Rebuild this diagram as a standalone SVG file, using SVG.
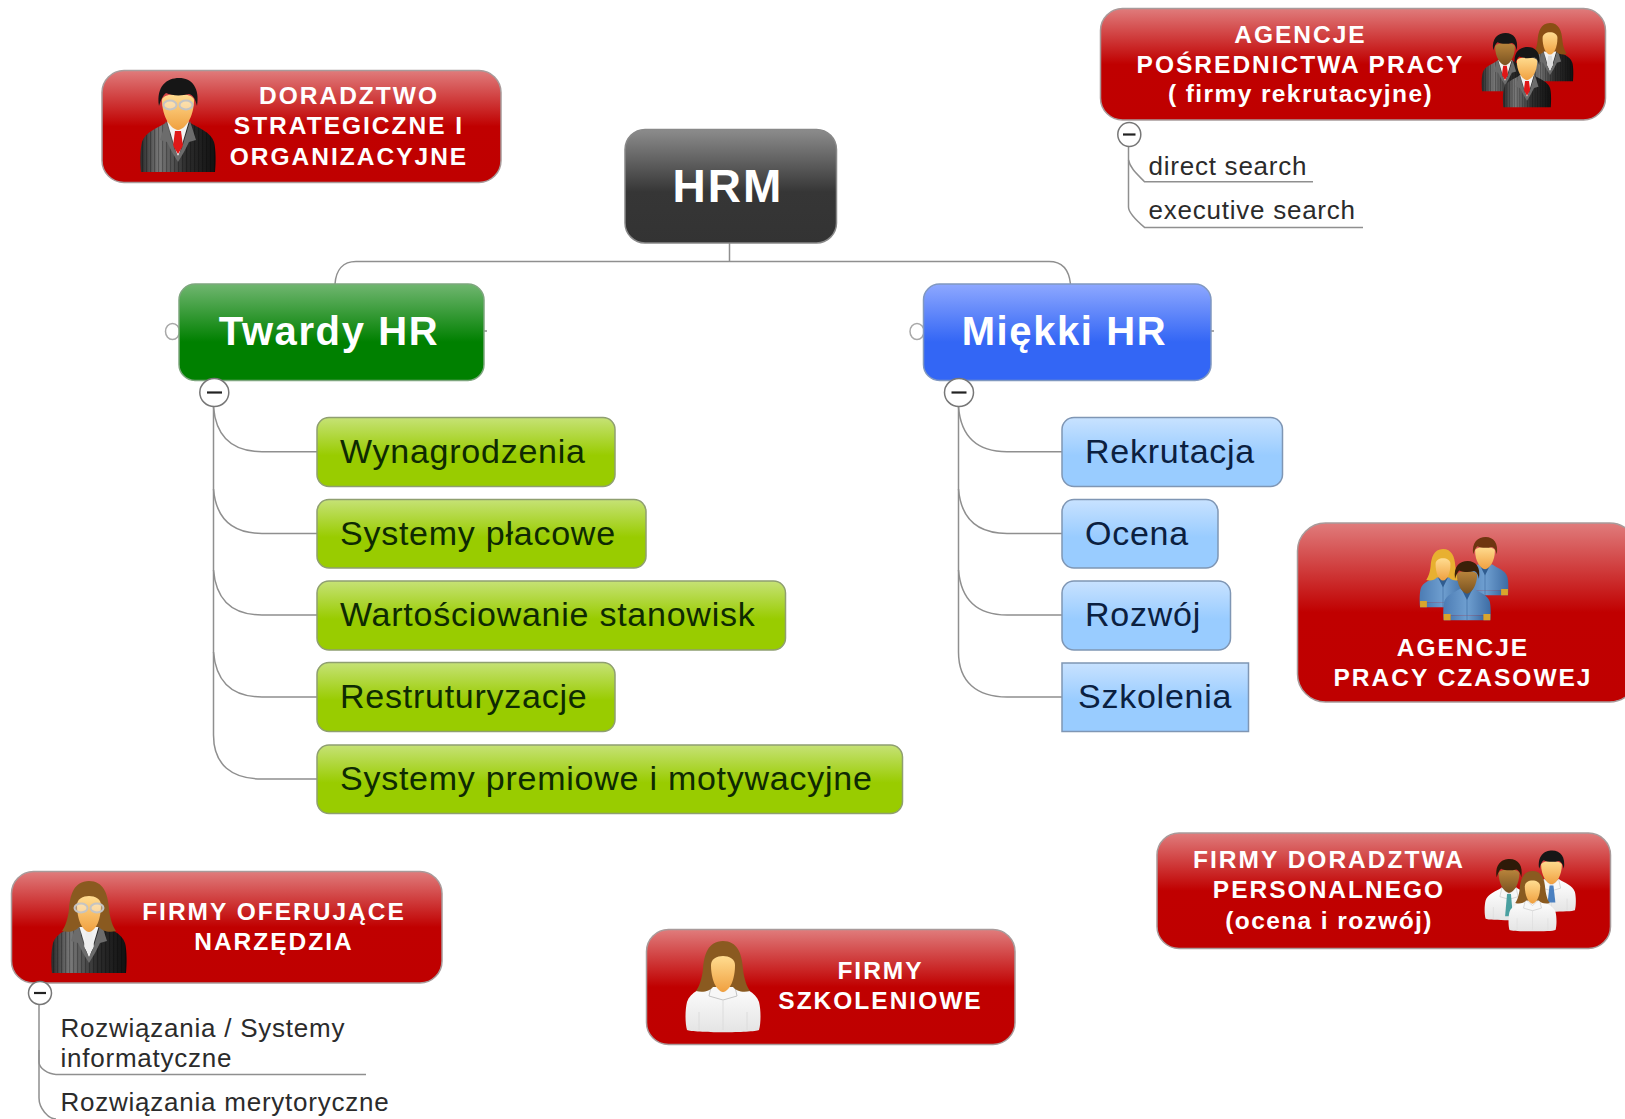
<svg xmlns="http://www.w3.org/2000/svg" xmlns:xlink="http://www.w3.org/1999/xlink" width="1625" height="1119" viewBox="0 0 1625 1119">
<style>
text{font-family:"Liberation Sans",Arial,sans-serif}
.red{fill:url(#gRed);stroke:#a89a9a;stroke-width:1.5}
.rt{fill:#fff;font-weight:bold;font-size:24.5px;letter-spacing:2px;text-anchor:middle}
.rl{letter-spacing:1.4px}
.big{fill:#fff;font-weight:bold;font-size:40px;letter-spacing:1.6px;text-anchor:middle}
.lime{fill:url(#gLime);stroke:#8f9f70;stroke-width:1.5}
.sky{fill:url(#gSky);stroke:#7f96b4;stroke-width:1.5}
.lt{fill:#0e2a02;font-size:34px;letter-spacing:.75px}
.bt{fill:#0b2040;font-size:34px;letter-spacing:.75px}
.sub{fill:#2b2b2b;font-size:26px;letter-spacing:.76px}
.c{fill:none;stroke:#8f8f8f;stroke-width:1.5}
.dot{fill:#fff;stroke:#a8a8a8;stroke-width:1.5}
.tog{fill:#fff;stroke:#777;stroke-width:1.5}
.minus{stroke:#222;stroke-width:2.2}
</style>
<defs>
<linearGradient id="gRed" x1="0" y1="0" x2="0" y2="1"><stop offset="0" stop-color="#e07c7c"/><stop offset=".5" stop-color="#c00000"/><stop offset="1" stop-color="#bf0000"/></linearGradient>
<linearGradient id="gBlack" x1="0" y1="0" x2="0" y2="1"><stop offset="0" stop-color="#8c8c8c"/><stop offset=".55" stop-color="#363636"/><stop offset="1" stop-color="#333"/></linearGradient>
<linearGradient id="gGreen" x1="0" y1="0" x2="0" y2="1"><stop offset="0" stop-color="#70b670"/><stop offset=".6" stop-color="#008000"/><stop offset="1" stop-color="#008000"/></linearGradient>
<linearGradient id="gBlue" x1="0" y1="0" x2="0" y2="1"><stop offset="0" stop-color="#8ea8ff"/><stop offset=".6" stop-color="#3366f5"/><stop offset="1" stop-color="#3366f5"/></linearGradient>
<linearGradient id="gLime" x1="0" y1="0" x2="0" y2="1"><stop offset="0" stop-color="#c6e276"/><stop offset=".55" stop-color="#99cc00"/><stop offset="1" stop-color="#99cc00"/></linearGradient>
<linearGradient id="gSky" x1="0" y1="0" x2="0" y2="1"><stop offset="0" stop-color="#c8e2ff"/><stop offset=".55" stop-color="#99ccff"/><stop offset="1" stop-color="#99ccff"/></linearGradient>
<linearGradient id="skin" x1="0" y1="0" x2="0" y2="1"><stop offset="0" stop-color="#ffdc90"/><stop offset="1" stop-color="#f0a040"/></linearGradient>
<linearGradient id="skinD" x1="0" y1="0" x2="0" y2="1"><stop offset="0" stop-color="#b9853c"/><stop offset="1" stop-color="#7a5320"/></linearGradient>
<linearGradient id="suitG" x1="0" y1="0" x2="1" y2="0"><stop offset="0" stop-color="#2a2a2a"/><stop offset=".25" stop-color="#7a7a7a"/><stop offset=".6" stop-color="#2e2e2e"/><stop offset="1" stop-color="#111"/></linearGradient>
<linearGradient id="shirtG" x1="0" y1="0" x2="0" y2="1"><stop offset="0" stop-color="#ffffff"/><stop offset="1" stop-color="#e4e4e4"/></linearGradient>
<linearGradient id="blueG" x1="0" y1="0" x2="1" y2="0"><stop offset="0" stop-color="#4c7cb4"/><stop offset=".5" stop-color="#6f9fd0"/><stop offset="1" stop-color="#3d6ca4"/></linearGradient>
<pattern id="stripes" width="4" height="8" patternUnits="userSpaceOnUse"><rect width="1.2" height="8" fill="#000" fill-opacity=".28"/></pattern>
<g id="suit">
<path d="M-11 44C-20 50-33 54-36 64C-38 72-38 85-37 94H37C38 85 38 72 36 64C33 54 20 50 11 44L0 52Z" fill="url(#suitG)"/>
<path d="M-11 44C-20 50-33 54-36 64C-38 72-38 85-37 94H37C38 85 38 72 36 64C33 54 20 50 11 44L0 52Z" fill="url(#stripes)"/>
<path d="M-11 43L0 80L11 43L0 50Z" fill="#f2f2f2"/>
<path d="M-3 53H3L5 68L0 76L-5 68Z" fill="currentColor"/>
<path d="M-12 43L-18 62L-11 64L-6 74L0 84L6 74L11 64L18 62L12 43L4 70L0 78L-4 70Z" fill="#6c6c6c"/>
</g>
<g id="whiteshirt">
<path d="M-11 44C-20 50-33 54-36 64C-38 72-38 85-36 92C-30 95 30 95 36 92C38 85 38 72 36 64C33 54 20 50 11 44L0 52Z" fill="url(#shirtG)"/>
<path d="M-11 44L-14 58L0 62L14 58L11 44L0 54Z" fill="#f7f7f7" stroke="#c4c4c4"/>
<path d="M0 62V92M-24 74V92M24 74V92" stroke="#dcdcdc" fill="none"/>
</g>
<g id="blueshirt">
<path d="M-11 44C-20 50-33 54-36 64C-38 72-38 85-37 94H-26V86H26V94H37C38 85 38 72 36 64C33 54 20 50 11 44L0 52Z" fill="url(#blueG)"/>
<path d="M-26 86H26V94H-26Z" fill="url(#blueG)"/>
<path d="M-37 84H-26V94H-37ZM26 84H37V94H26Z" fill="#d9a52c"/>
<path d="M-9 44L0 62L9 44L0 50Z" fill="#2f5c90"/>
<path d="M0 60V94" stroke="#3b6aa0"/>
</g>
<g id="mhead">
<path d="M-16 22C-16 14 16 14 16 22C16 38 8 51 0 52C-8 51-16 38-16 22Z"/>
<path d="M-19 28C-22 8-11 0 1 0C14 0 22 10 19 28C17 20 15 17 11 16C4 18-6 18-12 15C-15 17-17 22-19 28Z" fill="currentColor"/>
</g>
<g id="fhead">
<path d="M0 0C-15 0-19 14-20 28C-21 38-24 46-27 50C-20 52-13 50-10 46H10C13 50 20 52 27 50C24 46 21 38 20 28C19 12 14 0 0 0Z" fill="currentColor"/>
<path d="M-12 24C-12 12 12 12 12 24C12 38 7 50 0 51C-7 50-12 38-12 24Z"/>
</g>
<g id="glasses" fill="#fff" fill-opacity=".35" stroke="#c4c4c4" stroke-width="2"><ellipse cx="-8" cy="27" rx="6.5" ry="4.5"/><ellipse cx="8" cy="27" rx="6.5" ry="4.5"/></g>
</defs>

<g id="connectors">
<path class="c" d="M729.5 243V261.5"/>
<path class="c" d="M335 284C336 270 343 261.5 356 261.5H1049C1062 261.5 1069 270 1070.5 284"/>
<path class="c" d="M213.5 406V735C213.5 765 232 779 262 779H318"/>
<path class="c" d="M213.5 407C216 437 232 451.7 262 451.7H318"/>
<path class="c" d="M213.5 489C216 519 232 533.4 262 533.4H318"/>
<path class="c" d="M213.5 570C216 600 232 615 262 615H318"/>
<path class="c" d="M213.5 652C216 682 232 697 262 697H318"/>
<path class="c" d="M958.5 406V652C958.5 682 977 697 1007 697H1062"/>
<path class="c" d="M958.5 407C961 437 977 451.7 1007 451.7H1062"/>
<path class="c" d="M958.5 489C961 519 977 533.4 1007 533.4H1062"/>
<path class="c" d="M958.5 570C961 600 977 615 1007 615H1062"/>
<path class="c" d="M1128.5 146V207C1128.5 213 1137 221 1144.5 227.4H1363"/>
<path class="c" d="M1128.5 160C1130 168 1137 174 1144.5 181.7H1313"/>
<path class="c" d="M39 1004V1098C39 1108 48 1119 56 1119"/>
<path class="c" d="M39 1050V1062C39 1068 48 1074.4 56 1074.4H366"/>
<path class="c" d="M484 331H487M1211 331H1214"/>
</g>

<g id="node-doradztwo">
<rect class="red" x="102" y="70.5" width="399" height="112" rx="22"/>
<use href="#suit" transform="translate(178,78)" color="#e01818"/>
<use href="#mhead" transform="translate(178,78)" fill="url(#skin)" color="#161616"/>
<use href="#glasses" transform="translate(178,78)"/>
<text class="rt" x="349" y="104">DORADZTWO</text>
<text class="rt" x="349" y="134">STRATEGICZNE I</text>
<text class="rt" x="349" y="165">ORGANIZACYJNE</text>
</g>

<g id="node-agencje-posrednictwa">
<rect class="red" x="1100.5" y="8.5" width="505" height="111.5" rx="22"/>
<g transform="translate(1505,33) scale(.62)"><use href="#suit" color="#e01818"/><use href="#mhead" fill="url(#skinD)" color="#161616"/></g>
<g transform="translate(1550,23) scale(.62)"><use href="#suit" color="#ddd"/><use href="#fhead" fill="url(#skin)" color="#8a4f14"/></g>
<g transform="translate(1527,47) scale(.64)"><use href="#suit" color="#e01818"/><use href="#mhead" fill="url(#skin)" color="#161616"/></g>
<text class="rt" x="1300.5" y="42.5">AGENCJE</text>
<text class="rt" x="1300.5" y="73">POŚREDNICTWA PRACY</text>
<text class="rt rl" x="1300.5" y="102">( firmy rekrutacyjne)</text>
</g>
<g id="toggle-agencje"><ellipse class="tog" cx="1129.3" cy="134.5" rx="11.5" ry="12"/><path class="minus" d="M1123 134.5H1135.5"/></g>
<g id="node-direct-search"><text class="sub" x="1148.5" y="174.5">direct search</text></g>
<g id="node-executive-search"><text class="sub" x="1148.5" y="219">executive search</text></g>

<g id="node-hrm">
<rect x="625" y="129.5" width="211.5" height="113.5" rx="20" fill="url(#gBlack)" stroke="#888" stroke-width="1.5"/>
<text x="728" y="202" fill="#fff" font-weight="bold" font-size="46px" letter-spacing="2px" text-anchor="middle">HRM</text>
</g>

<g id="node-twardy-hr">
<ellipse class="dot" cx="172.5" cy="331.5" rx="7" ry="8"/>
<rect x="179" y="284" width="305" height="96.5" rx="16" fill="url(#gGreen)" stroke="#7ea67e" stroke-width="1.5"/>
<text class="big" x="329" y="345">Twardy HR</text>
</g>
<g id="toggle-twardy"><ellipse class="tog" cx="214.3" cy="392.5" rx="14.5" ry="14"/><path class="minus" d="M207 392.5H222"/></g>

<g id="node-miekki-hr">
<ellipse class="dot" cx="917" cy="331.5" rx="7" ry="8"/>
<rect x="923.5" y="284" width="287.5" height="96.5" rx="16" fill="url(#gBlue)" stroke="#8098c0" stroke-width="1.5"/>
<text class="big" x="1064.5" y="345">Miękki HR</text>
</g>
<g id="toggle-miekki"><ellipse class="tog" cx="959" cy="392.5" rx="14.5" ry="14"/><path class="minus" d="M951.5 392.5H966.5"/></g>

<g id="node-wynagrodzenia"><rect class="lime" x="317" y="417.5" width="298" height="69" rx="12"/><text class="lt" x="340" y="462.5">Wynagrodzenia</text></g>
<g id="node-systemy-placowe"><rect class="lime" x="317" y="499.5" width="329" height="68.5" rx="12"/><text class="lt" x="340" y="544.5">Systemy płacowe</text></g>
<g id="node-wartosciowanie"><rect class="lime" x="317" y="581" width="468.5" height="69" rx="12"/><text class="lt" x="340" y="626">Wartościowanie stanowisk</text></g>
<g id="node-restrukturyzacje"><rect class="lime" x="317" y="662.5" width="298" height="69" rx="12"/><text class="lt" x="340" y="708">Restruturyzacje</text></g>
<g id="node-systemy-premiowe"><rect class="lime" x="317" y="745" width="585.5" height="68.5" rx="12"/><text class="lt" x="340" y="790">Systemy premiowe i motywacyjne</text></g>

<g id="node-rekrutacja"><rect class="sky" x="1062" y="417.5" width="220.5" height="69" rx="12"/><text class="bt" x="1085" y="462.5">Rekrutacja</text></g>
<g id="node-ocena"><rect class="sky" x="1062" y="499.5" width="156" height="68.5" rx="12"/><text class="bt" x="1085" y="544.5">Ocena</text></g>
<g id="node-rozwoj"><rect class="sky" x="1062" y="581" width="168.5" height="69" rx="12"/><text class="bt" x="1085" y="626">Rozwój</text></g>
<g id="node-szkolenia"><rect class="sky" x="1062" y="663" width="186.5" height="68.5"/><text class="bt" x="1078" y="708">Szkolenia</text></g>

<g id="node-agencje-czasowej">
<rect class="red" x="1297.5" y="523" width="340" height="179" rx="28"/>
<g transform="translate(1443,549) scale(.62)"><use href="#blueshirt"/><use href="#fhead" fill="url(#skin)" color="#e8b030"/></g>
<g transform="translate(1485,537) scale(.62)"><use href="#blueshirt"/><use href="#mhead" fill="url(#skin)" color="#6e3510"/></g>
<g transform="translate(1467,561) scale(.63)"><use href="#blueshirt"/><use href="#mhead" fill="url(#skinD)" color="#3a2008"/></g>
<text class="rt" x="1463" y="656">AGENCJE</text>
<text class="rt" x="1463" y="685.5">PRACY CZASOWEJ</text>
</g>

<g id="node-firmy-doradztwa">
<rect class="red" x="1157" y="833" width="453.5" height="115.5" rx="22"/>
<g transform="translate(1509,859) scale(.65)"><use href="#whiteshirt"/><path d="M-3 54H3L6 88H-6Z" fill="#4aa0a0"/><use href="#mhead" fill="url(#skinD)" color="#2e1a08"/></g>
<g transform="translate(1551.5,850.5) scale(.65)"><use href="#whiteshirt"/><path d="M-3 54H3L6 80H-6Z" fill="#4a80c0"/><use href="#mhead" fill="url(#skin)" color="#161616"/></g>
<g transform="translate(1532.5,871) scale(.64)"><use href="#whiteshirt"/><use href="#fhead" fill="url(#skin)" color="#8a5a20"/></g>
<text class="rt" x="1329" y="867.5">FIRMY DORADZTWA</text>
<text class="rt" x="1329" y="898">PERSONALNEGO</text>
<text class="rt rl" x="1329" y="929">(ocena i rozwój)</text>
</g>

<g id="node-firmy-oferujace">
<rect class="red" x="11.5" y="871.5" width="430.5" height="111.5" rx="22"/>
<use href="#suit" transform="translate(89,879)" color="#eee"/>
<use href="#fhead" transform="translate(89,881)" fill="url(#skin)" color="#8a5a20"/>
<use href="#glasses" transform="translate(89,881)"/>
<text class="rt" x="274" y="920">FIRMY OFERUJĄCE</text>
<text class="rt" x="274" y="950">NARZĘDZIA</text>
</g>
<g id="toggle-oferujace"><ellipse class="tog" cx="40" cy="993" rx="11.5" ry="11.5"/><path class="minus" d="M34 993H46"/></g>
<g id="node-rozwiazania-systemy"><text class="sub"><tspan x="60.5" y="1037">Rozwiązania / Systemy</tspan><tspan x="60.5" y="1067">informatyczne</tspan></text></g>
<g id="node-rozwiazania-merytoryczne"><text class="sub" x="60.5" y="1111">Rozwiązania merytoryczne</text></g>

<g id="node-firmy-szkoleniowe">
<rect class="red" x="646.5" y="929.5" width="368.5" height="115" rx="22"/>
<use href="#whiteshirt" transform="translate(723,938)"/>
<use href="#fhead" transform="translate(723,941)" fill="url(#skin)" color="#8a5a20"/>
<text class="rt" x="880.5" y="979">FIRMY</text>
<text class="rt" x="880.5" y="1009">SZKOLENIOWE</text>
</g>
</svg>
